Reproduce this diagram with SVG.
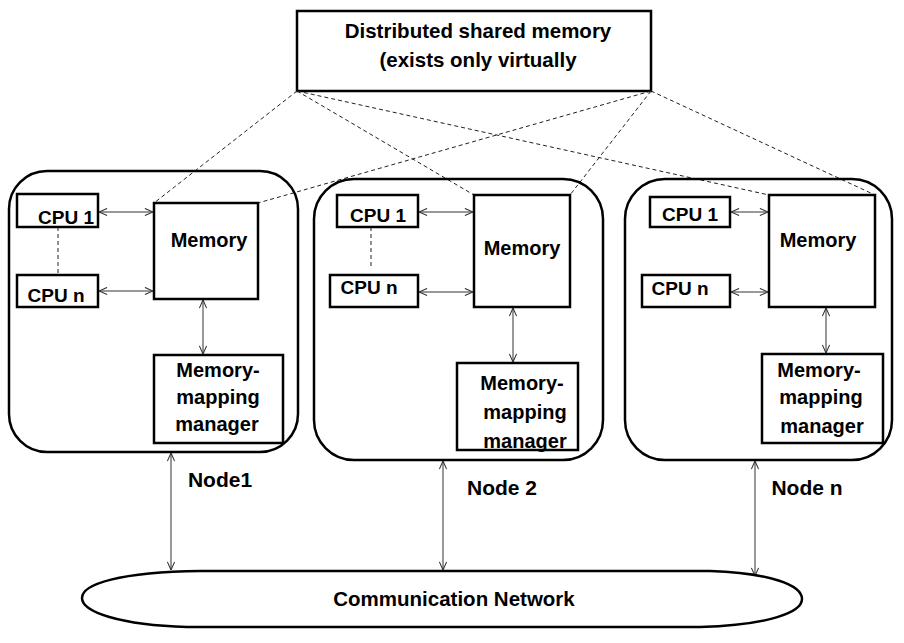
<svg xmlns="http://www.w3.org/2000/svg" width="904" height="643" viewBox="0 0 904 643">
<style>
.box{fill:#fff;stroke:#000;stroke-width:2.5}
.frame{fill:none;stroke:#000;stroke-width:2.5}
.t{font-family:"Liberation Sans",Arial,sans-serif;font-weight:bold;font-size:19px;fill:#000;text-anchor:middle}
.tb{font-size:20px}
.tl{font-size:21px}
.arr{stroke:#333;stroke-width:1;fill:none;marker-start:url(#ah);marker-end:url(#ah)}
.dash{stroke:#222;stroke-width:1;stroke-dasharray:4 3;fill:none}
</style>
<defs>
<marker id="ah" viewBox="0 0 10 10" refX="10" refY="5" markerWidth="9" markerHeight="9" markerUnits="userSpaceOnUse" orient="auto-start-reverse">
<path d="M1,1 L10,5 L1,9" fill="none" stroke="#333" stroke-width="1.2"/>
</marker>
</defs>
<rect width="904" height="643" fill="#fff"/>

<g id="dsm">
<rect class="box" x="297" y="11" width="354" height="80"/>
<text class="t" x="478" y="38" style="font-size:20.5px">Distributed shared memory</text>
<text class="t" x="478" y="67" style="font-size:20.5px">(exists only virtually</text>
</g>

<g id="connectors">
<line class="dash" x1="297" y1="91" x2="154" y2="203"/>
<line class="dash" x1="297" y1="91" x2="474" y2="195"/>
<line class="dash" x1="297" y1="91" x2="769" y2="195"/>
<line class="dash" x1="651" y1="91" x2="258" y2="203"/>
<line class="dash" x1="651" y1="91" x2="570" y2="195"/>
<line class="dash" x1="651" y1="91" x2="875" y2="195"/>
<line class="dash" x1="58" y1="227" x2="58" y2="275"/>
<line class="dash" x1="371" y1="227" x2="371" y2="268"/>
<line class="arr" x1="99" y1="212" x2="153" y2="212"/>
<line class="arr" x1="99" y1="291" x2="153" y2="291"/>
<line class="arr" x1="203" y1="300" x2="203" y2="354"/>
<line class="arr" x1="419" y1="212" x2="473" y2="212"/>
<line class="arr" x1="419" y1="292" x2="473" y2="292"/>
<line class="arr" x1="513" y1="308" x2="513" y2="362"/>
<line class="arr" x1="731" y1="212" x2="768" y2="212"/>
<line class="arr" x1="731" y1="292" x2="768" y2="292"/>
<line class="arr" x1="826" y1="308" x2="826" y2="353"/>
<line class="arr" x1="171" y1="453" x2="171" y2="570"/>
<line class="arr" x1="443" y1="461" x2="443" y2="570"/>
<line class="arr" x1="755" y1="461" x2="755" y2="576"/>
</g>

<g id="node1">
<rect class="frame" x="9" y="171" width="289" height="281" rx="38"/>
<rect class="box" x="17" y="194" width="81" height="33"/>
<text class="t" x="66" y="224">CPU 1</text>
<rect class="box" x="17" y="275" width="81" height="32"/>
<text class="t" x="56" y="302">CPU n</text>
<rect class="box" x="154" y="203" width="104" height="96"/>
<text class="t tb" x="209" y="247">Memory</text>
<rect class="box" x="154" y="355" width="129" height="88"/>
<text class="t tb" x="218" y="377">Memory-</text>
<text class="t tb" x="218" y="404">mapping</text>
<text class="t tb" x="217" y="431">manager</text>
<text class="t tl" x="220" y="487">Node1</text>
</g>

<g id="node2">
<rect class="frame" x="314" y="179" width="289" height="281" rx="40"/>
<rect class="box" x="337" y="195" width="81" height="32"/>
<text class="t" x="378" y="222">CPU 1</text>
<rect class="box" x="330" y="275" width="88" height="32"/>
<text class="t" x="369" y="294">CPU n</text>
<rect class="box" x="474" y="195" width="96" height="112"/>
<text class="t tb" x="522" y="255">Memory</text>
<rect class="box" x="457" y="363" width="121" height="87"/>
<text class="t tb" x="522" y="390">Memory-</text>
<text class="t tb" x="525" y="419">mapping</text>
<text class="t tb" x="525" y="448">manager</text>
<text class="t tl" x="502" y="495">Node 2</text>
</g>

<g id="node3">
<rect class="frame" x="625" y="179" width="267" height="281" rx="40"/>
<rect class="box" x="650" y="197" width="80" height="30"/>
<text class="t" x="690" y="221">CPU 1</text>
<rect class="box" x="642" y="275" width="88" height="32"/>
<text class="t" x="680" y="295">CPU n</text>
<rect class="box" x="769" y="195" width="106" height="112"/>
<text class="t tb" x="818" y="247">Memory</text>
<rect class="box" x="762" y="354" width="121" height="89"/>
<text class="t tb" x="819" y="377">Memory-</text>
<text class="t tb" x="821" y="404">mapping</text>
<text class="t tb" x="822" y="433">manager</text>
<text class="t tl" x="807" y="495">Node n</text>
</g>

<g id="network">
<path class="box" d="M200,571 L710,571 C770,573 802,585 802,599 C802,612 770,625 700,627 L187,627 C120,625 82,612 82,598 C82,584 120,572 200,571 Z"/>
<text class="t" x="454" y="606" style="font-size:20.5px">Communication Network</text>
</g>
</svg>
